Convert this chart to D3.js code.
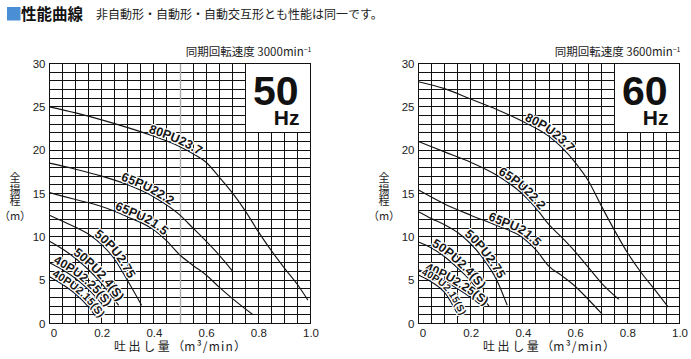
<!DOCTYPE html>
<html><head><meta charset="utf-8">
<script src="https://cdn.jsdelivr.net/npm/d3@7"></script>
<style>
html,body{margin:0;padding:0;background:#fff;}
svg{display:block;}
</style></head>
<body>
<svg id="chart" width="691" height="359"></svg>
<script>
// Axis ticks
const flowTicks = [0, 0.2, 0.4, 0.6, 0.8, 1.0];
const headTicks = [0, 5, 10, 15, 20, 25, 30];

// Pump models, in drawing order
const models = ["80PU23.7", "65PU22.2", "65PU21.5", "50PU2.75", "50PU2.4(S)", "40PU2.25(S)", "40PU2.15(S)"];

// 50 Hz performance: [discharge m3/min, total head m]
const hz50_80PU237 = [[0,25.0],[0.1,24.3],[0.2,23.5],[0.3,22.6],[0.4,21.6],[0.5,20.4],[0.55,19.6],[0.6,18.6],[0.65,16.9],[0.7,15.1],[0.75,13.0],[0.8,10.6],[0.85,8.4],[0.9,6.4],[0.95,4.5],[0.99,2.7]];
const hz50_65PU222 = [[0,18.5],[0.1,17.8],[0.2,17.0],[0.3,16.0],[0.4,14.6],[0.5,12.5],[0.55,11.0],[0.6,9.5],[0.65,7.9],[0.7,6.1]];
const hz50_65PU215 = [[0,15.1],[0.1,14.3],[0.2,13.5],[0.3,12.3],[0.4,10.8],[0.45,9.5],[0.5,7.9],[0.55,6.7],[0.6,5.6],[0.65,4.2],[0.7,2.9],[0.78,1.0]];
const hz50_50PU275 = [[0,12.5],[0.05,11.8],[0.1,11.1],[0.15,10.3],[0.2,9.1],[0.25,7.4],[0.3,4.9],[0.353,2.1]];
const hz50_50PU24S = [[0,9.5],[0.05,8.6],[0.1,7.5],[0.15,6.2],[0.2,4.6],[0.265,2.1]];
const hz50_40PU225S = [[0,7.0],[0.05,6.2],[0.1,5.2],[0.15,3.9],[0.205,2.1]];
const hz50_40PU215S = [[0,5.4],[0.05,4.5],[0.1,3.4],[0.15,1.9],[0.18,0.7]];

// 60 Hz performance: [discharge m3/min, total head m]
const hz60_80PU237 = [[0,27.9],[0.1,27.1],[0.2,25.9],[0.3,24.7],[0.4,23.3],[0.5,21.6],[0.55,20.3],[0.6,18.6],[0.65,16.5],[0.7,13.6],[0.75,10.8],[0.8,8.2],[0.85,6.0],[0.9,4.1],[0.957,1.9]];
const hz60_65PU222 = [[0,21.0],[0.1,19.8],[0.2,18.6],[0.3,17.1],[0.4,14.9],[0.45,13.3],[0.5,11.4],[0.55,9.9],[0.6,8.3],[0.65,6.5],[0.7,4.7],[0.767,2.8]];
const hz60_65PU215 = [[0,15.4],[0.1,13.8],[0.2,12.5],[0.3,11.3],[0.4,9.9],[0.45,8.5],[0.5,6.6],[0.55,5.5],[0.6,4.3],[0.65,2.8],[0.703,1.1]];
const hz60_50PU275 = [[0,12.9],[0.05,12.1],[0.1,11.4],[0.15,10.5],[0.2,9.2],[0.25,7.4],[0.3,5.0],[0.34,2.1]];
const hz60_50PU24S = [[0,9.4],[0.05,8.7],[0.1,7.7],[0.15,6.4],[0.2,4.9],[0.27,2.0]];
const hz60_40PU225S = [[0,6.2],[0.05,5.6],[0.1,4.9],[0.15,4.0],[0.2,3.0],[0.245,2.0]];
const hz60_40PU215S = [[0,5.6],[0.05,4.8],[0.1,3.6],[0.155,0.8]];

const curves50 = [hz50_80PU237, hz50_65PU222, hz50_65PU215, hz50_50PU275, hz50_50PU24S, hz50_40PU225S, hz50_40PU215S];
const curves60 = [hz60_80PU237, hz60_65PU222, hz60_65PU215, hz60_50PU275, hz60_50PU24S, hz60_40PU225S, hz60_40PU215S];

// ---- layout ----
const latin = "'Liberation Sans', Arial, Helvetica, sans-serif";
const cjk = "'Noto Sans CJK JP', 'Noto Sans', sans-serif";
const plotTop = 63.5, plotBottom = 323.5;

const panels = [
  { key: "50", left: 49.5, right: 310.5, speed: "3000", curves: curves50, midLine: true,
    labelFrom: [0.375, 0.27, 0.245, 0.165, 0.085, 0.01, 0.005],
    labelSize: [12.5, 12.5, 12.5, 12.5, 12.5, 12, 11] },
  { key: "60", left: 418.5, right: 679.5, speed: "3600", curves: curves60, midLine: false,
    labelFrom: [0.40, 0.30, 0.262, 0.17, 0.045, 0.02, 0.006],
    labelSize: [12.5, 12.5, 12.5, 12.5, 12.5, 12, 10] }
];

const svg = d3.select("#chart");

// Page heading
svg.append("rect").attr("x", 7).attr("y", 7).attr("width", 13.5).attr("height", 13.5).attr("fill", "#4a8fd6");
svg.append("text").attr("x", 21).attr("y", 19.5)
  .attr("font-family", cjk).attr("font-weight", 700).attr("font-size", 15.5).attr("fill", "#111")
  .text("性能曲線");
svg.append("text").attr("x", 96).attr("y", 18.5)
  .attr("font-family", cjk).attr("font-size", 12).attr("fill", "#222")
  .text("非自動形・自動形・自動交互形とも性能は同一です。");

const snap = v => Math.round(v - 0.5) + 0.5;

panels.forEach(p => {
  const x = d3.scaleLinear().domain([0, 1]).range([p.left, p.right]);
  const y = d3.scaleLinear().domain([0, 30]).range([plotBottom, plotTop]);
  const g = svg.append("g");

  // grid: 0.05 m3/min columns, 1 m rows
  const grid = g.append("g").attr("stroke", "#111").attr("stroke-width", 1).attr("shape-rendering", "crispEdges");
  grid.selectAll("line.v").data(d3.range(0, 21)).join("line").attr("class", "v")
    .attr("x1", i => snap(x(i * 0.05))).attr("x2", i => snap(x(i * 0.05)))
    .attr("y1", snap(y(0))).attr("y2", snap(y(30)));
  grid.selectAll("line.h").data(d3.range(0, 31)).join("line").attr("class", "h")
    .attr("y1", j => snap(y(j))).attr("y2", j => snap(y(j)))
    .attr("x1", snap(x(0))).attr("x2", snap(x(1)));

  if (p.midLine) {
    g.append("line").attr("x1", snap(x(0.5))).attr("x2", snap(x(0.5)))
      .attr("y1", snap(y(0))).attr("y2", snap(y(30)))
      .attr("stroke", "#a8a8a8").attr("stroke-width", 1.4);
  }

  // frequency plate in the upper-right corner
  const bx0 = snap(x(0.75)), bx1 = snap(x(1)), by0 = snap(y(30)), by1 = snap(y(22));
  g.append("rect").attr("x", bx0 + 0.5).attr("y", by0 + 0.5)
    .attr("width", bx1 - bx0 - 1).attr("height", by1 - by0 - 1).attr("fill", "#fff");
  g.append("text").attr("x", p.right - 12).attr("y", 105).attr("text-anchor", "end")
    .attr("font-family", latin).attr("font-weight", 700).attr("font-size", 41).attr("fill", "#111")
    .text(p.key);
  g.append("text").attr("x", p.right - 11).attr("y", 125).attr("text-anchor", "end")
    .attr("font-family", latin).attr("font-weight", 700).attr("font-size", 21).attr("fill", "#111")
    .text("Hz");

  // speed caption
  const sp = g.append("text").attr("x", p.right + 1).attr("y", 56).attr("text-anchor", "end")
    .attr("font-family", cjk).attr("font-size", 11.5).attr("fill", "#222");
  sp.append("tspan").text("同期回転速度 " + p.speed + "min");
  sp.append("tspan").attr("dy", -4.5).attr("font-size", 7).text("−1");

  // curves and labels (labels carry a white halo that knocks out the grid)
  const line = d3.line().x(d => x(d[0])).y(d => y(d[1])).curve(d3.curveMonotoneX);
  const curveLayer = g.append("g");
  const textLayer = g.append("g");
  const defs = g.append("defs");

  p.curves.forEach((data, i) => {
    curveLayer.append("path").attr("d", line(data))
      .attr("fill", "none").attr("stroke", "#151515").attr("stroke-width", 1.15);

    // label path: the curve extended a little past its last point
    const n = data.length;
    const ax = x(data[n - 2][0]), ay = y(data[n - 2][1]);
    const ex = x(data[n - 1][0]), ey = y(data[n - 1][1]);
    const len = Math.hypot(ex - ax, ey - ay);
    const ext = [ex + (ex - ax) / len * 30, ey + (ey - ay) / len * 30];
    const id = "lp" + p.key + "_" + i;
    const lp = defs.append("path").attr("id", id).attr("d", line(data) + "L" + ext[0] + "," + ext[1]);
    const node = lp.node();
    const total = node.getTotalLength();
    const tx = x(p.labelFrom[i]);
    let off = 0;
    for (let L = 0; L <= total; L += 0.5) {
      if (node.getPointAtLength(L).x >= tx) { off = L; break; }
    }

    textLayer.append("text")
      .attr("font-family", latin).attr("font-weight", 700).attr("font-size", p.labelSize[i])
      .attr("fill", "#151515").attr("dy", -1.8)
      .attr("stroke", "#fff").attr("stroke-width", 2.4).attr("stroke-linejoin", "round")
      .attr("paint-order", "stroke")
      .append("textPath").attr("href", "#" + id).attr("startOffset", off).text(models[i]);
  });

  // frame
  g.append("rect").attr("x", snap(x(0))).attr("y", snap(y(30)))
    .attr("width", snap(x(1)) - snap(x(0))).attr("height", snap(y(0)) - snap(y(30)))
    .attr("fill", "none").attr("stroke", "#111").attr("shape-rendering", "crispEdges");

  // axes (labels only)
  const ax = g.append("g").attr("transform", `translate(0,${plotBottom})`)
    .call(d3.axisBottom(x).tickValues(flowTicks).tickSize(0).tickPadding(5)
      .tickFormat(d => d === 0 ? "0" : d3.format(".1f")(d)));
  ax.select(".domain").remove();
  ax.selectAll("text").attr("font-family", latin).attr("font-size", 11.5).attr("fill", "#222");
  ax.selectAll(".tick").filter(d => d === 0).select("text").attr("dx", 4);

  const ay2 = g.append("g").attr("transform", `translate(${p.left},0)`)
    .call(d3.axisLeft(y).tickValues(headTicks).tickSize(0).tickPadding(4));
  ay2.select(".domain").remove();
  ay2.selectAll("text").attr("font-family", latin).attr("font-size", 11.5).attr("fill", "#222");

  // axis titles
  const xt = g.append("text").attr("x", (p.left + p.right) / 2).attr("y", 351).attr("text-anchor", "middle")
    .attr("font-family", cjk).attr("font-size", 12).attr("fill", "#222");
  xt.append("tspan").attr("letter-spacing", 2.6).text("吐出し量");
  xt.append("tspan").text("（");
  xt.append("tspan").attr("letter-spacing", 1.2).text("m³/min");
  xt.append("tspan").text("）");

  const yt = g.append("g").attr("font-family", cjk).attr("font-size", 11).attr("fill", "#222")
    .attr("text-anchor", "middle");
  ["全", "揚", "程"].forEach((c, k) => {
    yt.append("text").attr("x", p.left - 34.5).attr("y", 182 + k * 11.5).text(c);
  });
  yt.append("text").attr("x", p.left - 34.5).attr("y", 220).text("（m）");
});
</script>
</body></html>
